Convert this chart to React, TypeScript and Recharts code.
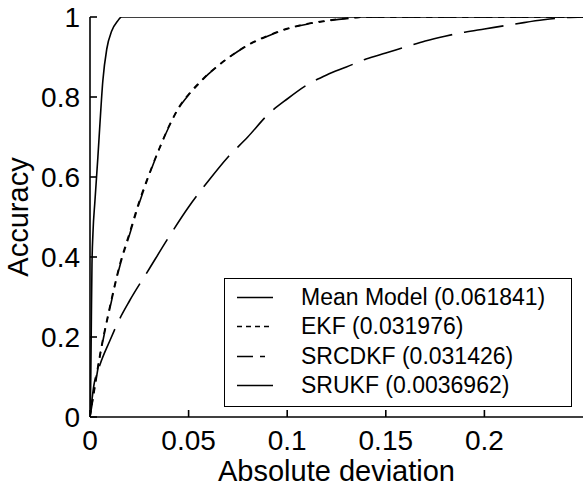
import { LineChart, Line, XAxis, YAxis } from 'recharts';

const xTicks = [0, 0.05, 0.1, 0.15, 0.2];
const yTicks = [0, 0.2, 0.4, 0.6, 0.8, 1];

const meanX = [0, 0.002, 0.005, 0.01, 0.015, 0.02, 0.03, 0.04, 0.05, 0.06, 0.07, 0.08, 0.09, 0.1, 0.11, 0.12, 0.13, 0.14, 0.15, 0.16, 0.17, 0.18, 0.19, 0.2, 0.21, 0.22, 0.23, 0.24, 0.25];
const meanY = [0, 0.08, 0.13, 0.19, 0.245, 0.29, 0.37, 0.45, 0.525, 0.59, 0.65, 0.7, 0.755, 0.795, 0.83, 0.855, 0.875, 0.895, 0.91, 0.925, 0.94, 0.952, 0.962, 0.97, 0.978, 0.986, 0.993, 0.998, 1];

const ekfX = [0, 0.002, 0.005, 0.01, 0.015, 0.02, 0.025, 0.03, 0.035, 0.04, 0.045, 0.05, 0.055, 0.06, 0.065, 0.07, 0.08, 0.09, 0.1, 0.11, 0.12, 0.13, 0.14, 0.25];
const ekfY = [0, 0.065, 0.155, 0.275, 0.38, 0.46, 0.54, 0.608, 0.67, 0.727, 0.774, 0.807, 0.834, 0.858, 0.879, 0.898, 0.93, 0.953, 0.971, 0.983, 0.991, 0.997, 1, 1];

const srcdkfX = [0, 0.002, 0.005, 0.01, 0.015, 0.02, 0.025, 0.03, 0.035, 0.04, 0.045, 0.05, 0.055, 0.06, 0.065, 0.07, 0.08, 0.09, 0.1, 0.11, 0.12, 0.13, 0.14, 0.25];
const srcdkfY = [0, 0.06, 0.15, 0.27, 0.375, 0.455, 0.535, 0.605, 0.668, 0.725, 0.772, 0.805, 0.832, 0.857, 0.878, 0.897, 0.929, 0.952, 0.97, 0.982, 0.99, 0.996, 1, 1];

const srukfX = [0, 0.0004, 0.0007, 0.001, 0.0015, 0.0025, 0.004, 0.005, 0.0065, 0.0085, 0.011, 0.014, 0.016, 0.25];
const srukfY = [0, 0.1, 0.25, 0.38, 0.46, 0.54, 0.65, 0.73, 0.84, 0.92, 0.965, 0.99, 1, 1];

const toPoints = (xs: number[], ys: number[]) => xs.map((x, i) => ({ x, y: ys[i] }));

const series = [
  { name: 'Mean Model (0.061841)', data: toPoints(meanX, meanY), dash: '40 12', legendDash: undefined },
  { name: 'EKF (0.031976)', data: toPoints(ekfX, ekfY), dash: '6 6', legendDash: '5 4' },
  { name: 'SRCDKF (0.031426)', data: toPoints(srcdkfX, srcdkfY), dash: '18 6 6 6', legendDash: '16 7 5 100' },
  { name: 'SRUKF (0.0036962)', data: toPoints(srukfX, srukfY), dash: undefined, legendDash: undefined },
];

const font = '"Liberation Sans", Arial, sans-serif';
const tickStyle = { fill: '#000', fontSize: 28, fontFamily: font };

export default function App() {
  return (
    <div style={{ position: 'absolute', left: 0, top: 0, width: 584, height: 489, background: '#fff', fontFamily: font }}>
      <LineChart width={584} height={489} margin={{ top: 17, right: 1, bottom: 0, left: 0 }}>
        <XAxis
          type="number"
          dataKey="x"
          domain={[0, 0.25]}
          ticks={xTicks}
          allowDataOverflow
          height={72}
          tickSize={-7}
          tickMargin={20}
          stroke="#000"
          strokeWidth={1.6}
          tick={tickStyle}
          tickFormatter={(v: number) => String(v)}
          label={{ value: 'Absolute deviation', position: 'center', dy: 18, fill: '#000', fontSize: 29, fontFamily: font }}
        />
        <XAxis
          xAxisId="top"
          orientation="top"
          type="number"
          domain={[0, 0.25]}
          ticks={xTicks}
          allowDataOverflow
          height={0}
          tickSize={-7}
          stroke="#000"
          strokeWidth={1.6}
          tick={false}
        />
        <YAxis
          type="number"
          domain={[0, 1]}
          ticks={yTicks}
          allowDataOverflow
          width={90}
          tickSize={-7}
          tickMargin={17}
          stroke="#000"
          strokeWidth={1.6}
          tick={tickStyle}
          tickFormatter={(v: number) => String(v)}
          label={{ value: 'Accuracy', angle: -90, position: 'center', dx: -27, fill: '#000', fontSize: 29, fontFamily: font }}
        />
        <YAxis
          yAxisId="right"
          orientation="right"
          type="number"
          domain={[0, 1]}
          ticks={yTicks}
          allowDataOverflow
          width={0}
          tickSize={-7}
          stroke="#000"
          strokeWidth={1.6}
          tick={false}
        />
        {series.map((s) => (
          <Line
            key={s.name}
            data={s.data}
            dataKey="y"
            type="monotone"
            stroke="#000"
            strokeWidth={1.6}
            strokeDasharray={s.dash}
            dot={false}
            activeDot={false}
            isAnimationActive={false}
          />
        ))}
      </LineChart>
      <div
        style={{
          position: 'absolute',
          left: 224,
          top: 278,
          width: 348,
          height: 129,
          boxSizing: 'border-box',
          border: '1.6px solid #000',
          background: '#fff',
          paddingTop: 4,
        }}
      >
        {series.map((s) => (
          <div key={s.name} style={{ display: 'flex', alignItems: 'center', height: 29.3 }}>
            <svg width={76} height={29} style={{ flexShrink: 0 }}>
              <line x1={12} x2={48} y1={14.5} y2={14.5} stroke="#000" strokeWidth={1.6} strokeDasharray={s.legendDash} />
            </svg>
            <span style={{ fontSize: 23, color: '#000', whiteSpace: 'nowrap', lineHeight: '29px' }}>{s.name}</span>
          </div>
        ))}
      </div>
    </div>
  );
}
